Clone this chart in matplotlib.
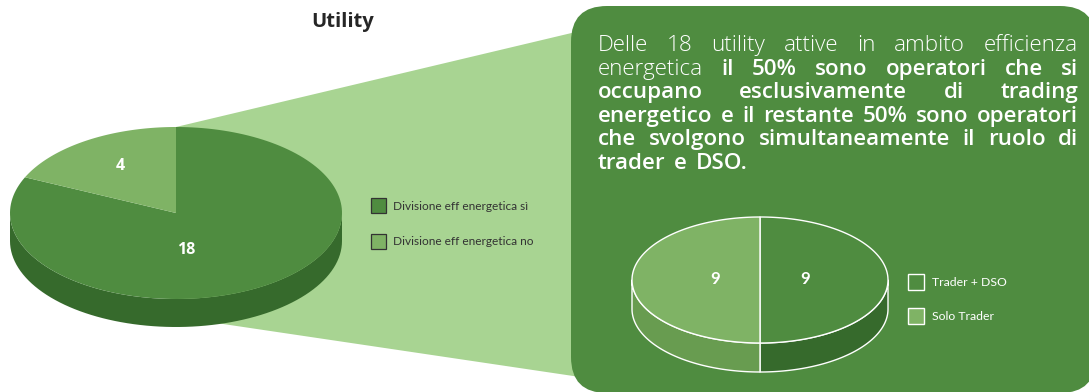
import numpy as np
import matplotlib
matplotlib.use("Agg")
import matplotlib.pyplot as plt
from matplotlib.patches import Polygon, Rectangle, FancyBboxPatch

# data
MAIN_LABELS = ["Divisione eff energetica sì", "Divisione eff energetica no"]
MAIN_VALUES = [18, 4]
SUB_LABELS = ["Trader + DSO", "Solo Trader"]
SUB_VALUES = [9, 9]
TITLE = "Utility"

LIGHT, BOLD = "light", "semibold"
TEXT_LINES = [
    [("Delle", LIGHT), ("18", LIGHT), ("utility", LIGHT), ("attive", LIGHT),
     ("in", LIGHT), ("ambito", LIGHT), ("efficienza", LIGHT)],
    [("energetica", LIGHT), ("il", BOLD), ("50%", BOLD), ("sono", BOLD),
     ("operatori", BOLD), ("che", BOLD), ("si", BOLD)],
    [("occupano", BOLD), ("esclusivamente", BOLD), ("di", BOLD), ("trading", BOLD)],
    [("energetico", BOLD), ("e", BOLD), ("il", BOLD), ("restante", BOLD),
     ("50%", BOLD), ("sono", BOLD), ("operatori", BOLD)],
    [("che", BOLD), ("svolgono", BOLD), ("simultaneamente", BOLD), ("il", BOLD),
     ("ruolo", BOLD), ("di", BOLD)],
    [("trader", BOLD), ("e", BOLD), ("DSO.", BOLD)],
]

# colours
C_DARK = "#4f8c40"
C_LIGHT = "#7fb365"
C_DARK_SIDE = "#366a2c"
C_LIGHT_SIDE = "#689c50"
C_FAN = "#a8d492"
PARA_FONT = "Open Sans"

W, H = 1089, 392
fig = plt.figure(figsize=(W / 100, H / 100), dpi=100)
ax = fig.add_axes([0, 0, 1, 1])
ax.set_xlim(0, W)
ax.set_ylim(H, 0)
ax.axis("off")


def front_ranges(a_lo, a_hi):
    out = []
    for k in (-2, -1, 0):
        s, e = max(a_lo, 180 + 360 * k), min(a_hi, 360 + 360 * k)
        if e > s:
            out.append((s, e))
    return out


def pie3d(values, cx, cy, rx, ry, depth, tops, sides, edge="none", lw=0, z=3):
    total = float(sum(values))
    start = 90.0
    spans = []
    for v in values:
        end = start - v / total * 360.0
        spans.append((end, start))
        start = end
    # sides
    for (a0, a1), col in zip(spans, sides):
        for s, e in front_ranges(a0, a1):
            t = np.radians(np.linspace(s, e, 80))
            xs, ys = cx + rx * np.cos(t), cy - ry * np.sin(t)
            pts = np.column_stack([np.r_[xs, xs[::-1]], np.r_[ys, ys[::-1] + depth]])
            ax.add_patch(Polygon(pts, closed=True, facecolor=col, edgecolor=edge,
                                 lw=lw, zorder=z, joinstyle="round"))
    # tops
    for (a0, a1), col in zip(spans, tops):
        t = np.radians(np.linspace(a1, a0, 160))
        xs, ys = cx + rx * np.cos(t), cy - ry * np.sin(t)
        pts = np.column_stack([np.r_[cx, xs], np.r_[cy, ys]])
        ax.add_patch(Polygon(pts, closed=True, facecolor=col, edgecolor=edge,
                             lw=lw, zorder=z + 1, joinstyle="round"))
    return spans


# light green fan linking main pie to the box
ax.add_patch(Polygon([(176, 127), (580, 31), (580, 377), (176, 317)],
                     closed=True, facecolor=C_FAN, edgecolor="none", zorder=1))

# right rounded box
ax.add_patch(FancyBboxPatch((571, 6), 525, 387,
                            boxstyle="round,pad=0,rounding_size=36",
                            facecolor=C_DARK, edgecolor="none", zorder=2))

# main 3D pie
pie3d(MAIN_VALUES, 176, 213, 166, 86, 28,
      [C_DARK, C_LIGHT], [C_DARK_SIDE, C_LIGHT_SIDE], z=3)
for v, (x, y) in zip(MAIN_VALUES, [(186, 250), (120, 166)]):
    ax.text(x, y, str(v), ha="center", va="center", color="white",
            fontsize=11.5, fontweight="bold", family="Open Sans", zorder=6)

ax.text(343, 22, TITLE, ha="center", va="center", fontsize=14.5,
        fontweight="bold", family="Open Sans", color="#262626", zorder=6)

# main legend
for i, (lab, col) in enumerate(zip(MAIN_LABELS, [C_DARK, C_LIGHT])):
    y0 = 198 + i * 35.5
    ax.add_patch(Rectangle((371, y0), 15, 15, facecolor=col, edgecolor="#333333",
                           lw=0.9, zorder=6))
    ax.text(393, y0 + 8, lab, ha="left", va="center", fontsize=8.6,
            family="Lato", color="#333333", zorder=6)

# secondary 3D pie inside the box
spans = pie3d(SUB_VALUES, 760, 280, 128, 63, 29,
              [C_DARK, C_LIGHT], [C_DARK_SIDE, C_LIGHT_SIDE],
              edge="white", lw=1.0, z=7)
for v, (a0, a1) in zip(SUB_VALUES, spans):
    m = np.radians((a0 + a1) / 2)
    ax.text(760 + 0.35 * 128 * np.cos(m), 280 - 0.35 * 63 * np.sin(m) - 1, str(v),
            ha="center", va="center", color="white", fontsize=12,
            fontweight="bold", family="Lato", zorder=10)

# secondary legend
for i, (lab, col) in enumerate(zip(SUB_LABELS, ["none", C_LIGHT])):
    y0 = 274 + i * 34
    ax.add_patch(Rectangle((908, y0), 16, 16, facecolor=col, edgecolor="white",
                           lw=1.0, zorder=10))
    ax.text(932, y0 + 8.5, lab, ha="left", va="center", fontsize=8.8,
            family="Lato", color="white", zorder=10)

# justified paragraph, font size fitted so line 4 fills the width naturally
X_L, X_R = 598, 1078
BASE0, STEP = 51, 23.6
SPACE_EM = 0.38
fig.canvas.draw()
renderer = fig.canvas.get_renderer()


def measure(words, size):
    arts = [ax.text(0, 0, w, fontsize=size, family=PARA_FONT, fontweight=wt)
            for w, wt in words]
    wd = [a.get_window_extent(renderer).width for a in arts]
    for a in arts:
        a.remove()
    return wd


ref_size = 12.0
wd = measure(TEXT_LINES[3], ref_size)
space = SPACE_EM * ref_size * 100 / 72
natural = sum(wd) + space * (len(wd) - 1)
size = ref_size * (X_R - X_L) / natural

for li, words in enumerate(TEXT_LINES):
    y = BASE0 + li * STEP
    widths = measure(words, size)
    if li < len(TEXT_LINES) - 1:
        gap = (X_R - X_L - sum(widths)) / (len(words) - 1)
    else:
        gap = SPACE_EM * size * 100 / 72
    x = X_L
    for (w, wt), wdt in zip(words, widths):
        ax.text(x, y, w, ha="left", va="baseline", fontsize=size,
                family=PARA_FONT, fontweight=wt, color="white", zorder=10)
        x += wdt + gap

fig.savefig("out.png", dpi=100)
